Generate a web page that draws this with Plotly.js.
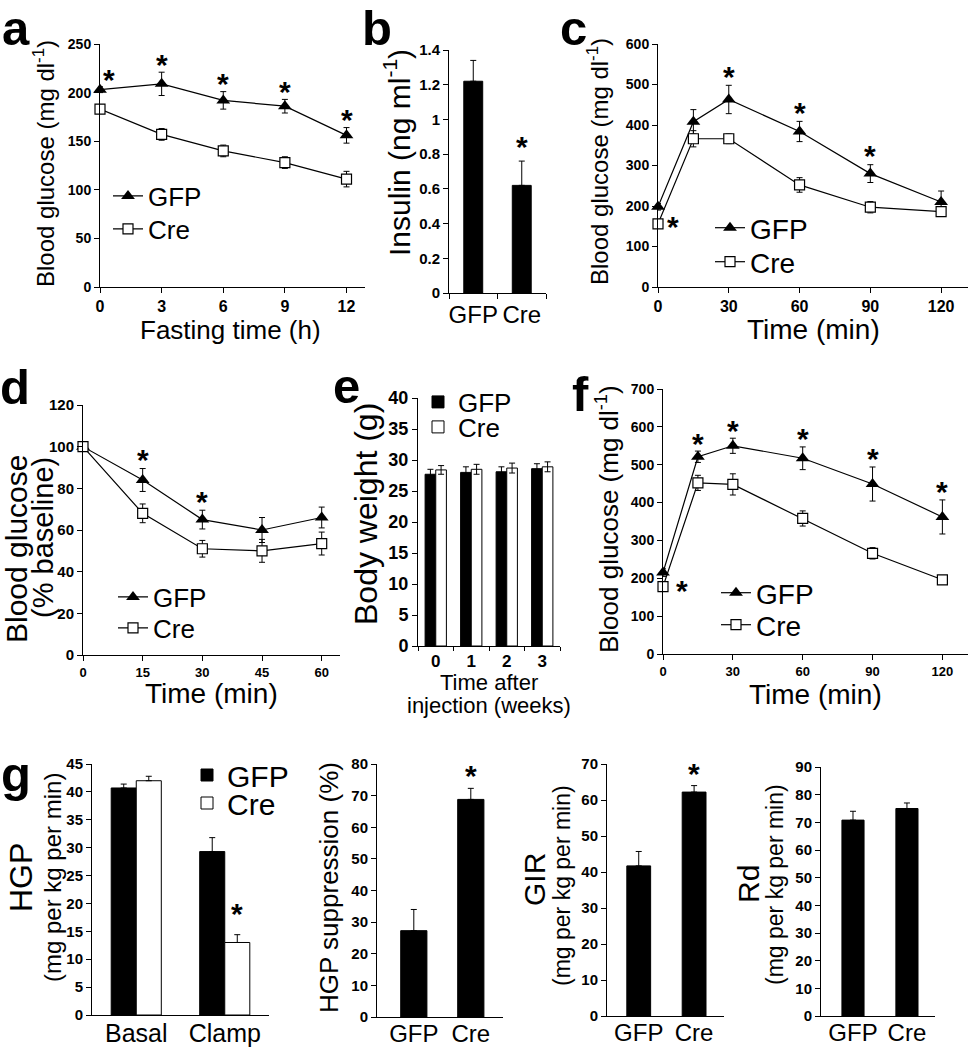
<!DOCTYPE html>
<html><head><meta charset="utf-8">
<script src="https://cdn.plot.ly/plotly-3.0.1.min.js"></script>
<style>html,body{margin:0;padding:0;background:#fff}#chart{width:974px;height:1050px}</style>
</head><body><div id="chart"></div>
<script>
// ---------------- DATA ----------------
// a: fasting
const fastTime = [0, 3, 6, 9, 12];
const aGFP = [203, 209, 192, 186, 156];
const aGFPerr = [3, 12, 9, 7, 8];
const aCre = [183, 157, 140, 128, 111];
const aCreErr = [4, 6, 6, 6, 8];
const aSigGFP = [1, 1, 1, 1, 1];
// b: insulin
const groupCats = ['GFP', 'Cre'];
const insulin = [1.22, 0.62];
const insulinErr = [0.12, 0.14];
const insulinSig = [0, 1];
// c: GTT
const gttTime = [0, 15, 30, 60, 90, 120];
const cGFP = [198, 408, 463, 384, 280, 210];
const cGFPerr = [8, 30, 35, 25, 22, 27];
const cCre = [156, 366, 366, 252, 197, 186];
const cCreErr = [10, 20, 12, 18, 14, 10];
const cSigGFP = [0, 0, 1, 1, 1, 0];
const cSigCre = [1, 0, 0, 0, 0, 0];
// d: ITT
const ittTime = [0, 15, 30, 45, 60];
const dGFP = [100, 84, 65, 60, 66];
const dGFPerr = [0, 5.5, 4.5, 6, 5];
const dCre = [100, 68, 51, 50, 53.5];
const dCreErr = [0, 4.5, 4, 5.5, 5.5];
const dSigGFP = [0, 1, 1, 0, 0];
// e: body weight
const weeks = ['0', '1', '2', '3'];
const eGFP = [27.7, 28.0, 28.1, 28.6];
const eGFPerr = [0.8, 0.9, 0.8, 0.8];
const eCre = [28.4, 28.5, 28.7, 28.9];
const eCreErr = [0.7, 0.8, 0.8, 0.8];
// f: PTT
const pttTime = [0, 15, 30, 60, 90, 120];
const fGFP = [215, 521, 550, 517, 449, 362];
const fGFPerr = [10, 15, 20, 30, 45, 45];
const fCre = [178, 452, 448, 358, 266, 196];
const fCreErr = [8, 20, 28, 20, 15, 10];
const fSigGFP = [0, 1, 1, 1, 1, 1];
const fSigCre = [1, 0, 0, 0, 0, 0];
// g: clamp
const clampCats = ['Basal', 'Clamp'];
const hgpGFP = [40.7, 29.3];
const hgpGFPerr = [0.7, 2.5];
const hgpCre = [42.0, 13.0];
const hgpCreErr = [0.8, 1.4];
const hgpCreSig = [0, 1];
const hgpSupp = [27.3, 68.8];
const hgpSuppErr = [6.7, 3.5];
const hgpSuppSig = [0, 1];
const gir = [41.7, 62.2];
const girErr = [4.0, 1.8];
const girSig = [0, 1];
const rd = [70.8, 75.0];
const rdErr = [3.2, 2.0];

// ---------------- HELPERS ----------------
const W = 974, H = 1050;
const FONT = 'Liberation Sans, Arial, Helvetica, sans-serif';
const dx = (a, b) => [a / W, b / W];
const dy = (top, bot) => [1 - bot / H, 1 - top / H];
const P = x => x / W;
const Q = y => 1 - y / H;
const bold = s => ({family: FONT, size: s, weight: 'bold', color: '#000'});

function axis(domain, range, anchor, extra) {
  return Object.assign({
    domain: domain, range: range, anchor: anchor,
    showline: true, linecolor: '#000', linewidth: 1,
    ticks: 'outside', ticklen: 5, tickwidth: 1, tickcolor: '#000',
    showgrid: false, zeroline: false, fixedrange: true,
    tickfont: bold(14)
  }, extra || {});
}

function lineTrace(x, y, err, xa, ya, name, gfp, legend) {
  return {
    type: 'scatter', mode: 'lines+markers', x: x, y: y, xaxis: xa, yaxis: ya,
    name: name, legend: legend, showlegend: true, cliponaxis: false,
    line: {color: '#000', width: 1.2},
    marker: gfp ? {symbol: 'triangle-up', size: 12, color: '#000'}
                : {symbol: 'square', size: 10, color: '#fff', line: {color: '#000', width: 1.2}},
    error_y: {type: 'data', array: err, visible: true, color: '#000', thickness: 1, width: 3}
  };
}

function barTrace(x, y, err, xa, ya, name, fill, width, offset, sym, legend) {
  const t = {
    type: 'bar', x: x, y: y, xaxis: xa, yaxis: ya, name: name,
    width: width, offset: offset, cliponaxis: false,
    marker: {color: fill, line: {color: '#000', width: 1}},
    error_y: sym ? {type: 'data', array: err, visible: true, color: '#000', thickness: 1, width: 3}
                 : {type: 'data', symmetric: false, array: err, arrayminus: err.map(() => 0), visible: true, color: '#000', thickness: 1, width: 3},
    showlegend: !!legend
  };
  if (legend) t.legend = legend;
  return t;
}

const annotations = [];
function text(x, y, t, size, opts) {
  annotations.push(Object.assign({
    xref: 'paper', yref: 'paper', x: P(x), y: Q(y), text: t, showarrow: false,
    xanchor: 'center', yanchor: 'middle',
    font: {family: FONT, size: size, color: '#000'}
  }, opts || {}));
}
function stars(xs, ys, errs, sig, xa, ya, gap, xshift) {
  xs.forEach((xv, i) => {
    if (!sig[i]) return;
    annotations.push({
      xref: xa, yref: ya, x: xv, y: ys[i] + errs[i], text: '*', showarrow: false,
      xanchor: 'center', yanchor: 'middle', xshift: xshift || 0, yshift: gap - 7,
      font: bold(30)
    });
  });
}

// ---------------- TRACES ----------------
const data = [
  // a
  lineTrace(fastTime, aGFP, aGFPerr, 'x', 'y', 'GFP', true, 'legend'),
  lineTrace(fastTime, aCre, aCreErr, 'x', 'y', 'Cre', false, 'legend2'),
  // b
  barTrace(groupCats, insulin, insulinErr, 'x2', 'y2', 'Insulin', '#000', 0.39, -0.195, false, null),
  // c
  lineTrace(gttTime, cGFP, cGFPerr, 'x3', 'y3', 'GFP', true, 'legend3'),
  lineTrace(gttTime, cCre, cCreErr, 'x3', 'y3', 'Cre', false, 'legend4'),
  // d
  lineTrace(ittTime, dGFP, dGFPerr, 'x4', 'y4', 'GFP', true, 'legend5'),
  lineTrace(ittTime, dCre, dCreErr, 'x4', 'y4', 'Cre', false, 'legend6'),
  // e
  barTrace(weeks, eGFP, eGFPerr, 'x5', 'y5', 'GFP', '#000', 0.3, -0.3, true, 'legend7'),
  barTrace(weeks, eCre, eCreErr, 'x5', 'y5', 'Cre', '#fff', 0.3, 0, true, 'legend8'),
  // f
  lineTrace(pttTime, fGFP, fGFPerr, 'x6', 'y6', 'GFP', true, 'legend9'),
  lineTrace(pttTime, fCre, fCreErr, 'x6', 'y6', 'Cre', false, 'legend10'),
  // g1
  barTrace(clampCats, hgpGFP, hgpGFPerr, 'x7', 'y7', 'GFP', '#000', 0.283, -0.283, false, 'legend11'),
  barTrace(clampCats, hgpCre, hgpCreErr, 'x7', 'y7', 'Cre', '#fff', 0.283, 0, false, 'legend12'),
  // g2
  barTrace(groupCats, hgpSupp, hgpSuppErr, 'x8', 'y8', 'HGP suppression', '#000', 0.46, -0.23, false, null),
  // g3
  barTrace(groupCats, gir, girErr, 'x9', 'y9', 'GIR', '#000', 0.43, -0.215, false, null),
  // g4
  barTrace(groupCats, rd, rdErr, 'x10', 'y10', 'Rd', '#000', 0.41, -0.205, false, null)
];

// ---------------- ASTERISKS ----------------
stars(fastTime, aGFP, aGFPerr, aSigGFP.map((s, i) => i === 0 ? 0 : s), 'x', 'y', 15);
stars([fastTime[0]], [aGFP[0]], [aGFPerr[0]], [aSigGFP[0]], 'x', 'y', 14, 9);
stars(groupCats, insulin, insulinErr, insulinSig, 'x2', 'y2', 22);
stars(gttTime, cGFP, cGFPerr, cSigGFP, 'x3', 'y3', 16);
stars(gttTime, cCre, cCre.map(() => 0), cSigCre, 'x3', 'y3', 4, 15);
stars(ittTime, dGFP, dGFPerr, dSigGFP, 'x4', 'y4', 16);
stars(pttTime, fGFP, fGFPerr, fSigGFP, 'x6', 'y6', 15);
stars(pttTime, fCre, fCre.map(() => 0), fSigCre, 'x6', 'y6', 3, 19);
stars(clampCats.map((c, i) => i), hgpCre, hgpCreErr, hgpCreSig, 'x7', 'y7', 28, 12);
stars(groupCats, hgpSupp, hgpSuppErr, hgpSuppSig, 'x8', 'y8', 20);
stars(groupCats, gir, girErr, girSig, 'x9', 'y9', 19);

// ---------------- TEXT (panel letters, axis titles) ----------------
[['a', 0, 27.5], ['b', 360, 27.5], ['c', 558, 27.5], ['d', -2, 387], ['e', 331, 386], ['f', 570, 394], ['g', -1, 774]]
  .forEach(([t, x, y]) => text(x, y, t, 49, {xanchor: 'left', font: bold(49)}));

const rot = {textangle: -90};
text(44, 164, 'Blood glucose (mg dl<sup>-1</sup>)', 24, rot);
text(230, 330, 'Fasting time (h)', 26);
text(397, 153, 'Insulin (ng ml<sup>-1</sup>)', 30, rot);
text(598, 162, 'Blood glucose (mg dl<sup>-1</sup>)', 24, rot);
text(813, 329, 'Time (min)', 28);
text(16, 549, 'Blood glucose', 30, rot);
text(43, 538, '(% baseline)', 29, rot);
text(211, 693, 'Time (min)', 28);
text(366, 514, 'Body weight (g)', 32, rot);
text(489, 682, 'Time after', 22);
text(489, 705, 'injection (weeks)', 22);
text(608, 519, 'Blood glucose (mg dl<sup>-1</sup>)', 26, rot);
text(815, 694, 'Time (min)', 28);
text(21, 878, 'HGP', 32, rot);
text(52, 878, '(mg per kg per min)', 24, rot);
text(329, 888, 'HGP suppression (%)', 26, rot);
text(534, 880, 'GIR', 30, rot);
text(562, 886, '(mg per kg per min)', 23, rot);
text(748, 884, 'Rd', 30, rot);
text(775, 885, '(mg per kg per min)', 23, rot);

// ---------------- LAYOUT ----------------
function leg(x, y, size) {
  return {x: P(x), y: Q(y), xanchor: 'left', yanchor: 'middle', bgcolor: 'rgba(0,0,0,0)',
          borderwidth: 0, itemwidth: 30, font: {family: FONT, size: size, color: '#000'}};
}
const catFont = {family: FONT, size: 24, color: '#000'};

const layout = {
  width: W, height: H, margin: {l: 0, r: 0, t: 0, b: 0, pad: 0},
  paper_bgcolor: '#fff', plot_bgcolor: 'rgba(0,0,0,0)',
  font: {family: FONT, color: '#000'},
  barmode: 'group',
  showlegend: true,
  // a
  xaxis: axis(dx(100, 365), [0, 12.9], 'y', {dtick: 3, tick0: 0, tickfont: bold(16)}),
  yaxis: axis(dy(44, 287), [0, 250], 'x', {dtick: 50}),
  // b
  xaxis2: axis(dx(449, 546), [-0.5, 1.5], 'y2', {type: 'category', tickson: 'boundaries', tickangle: 0, tickfont: catFont}),
  yaxis2: axis(dy(50, 293), [0, 1.4], 'x2', {dtick: 0.2, tickfont: bold(15)}),
  // c
  xaxis3: axis(dx(658, 968), [0, 131.4], 'y3', {dtick: 30, tick0: 0, tickfont: bold(16)}),
  yaxis3: axis(dy(44, 287), [0, 600], 'x3', {dtick: 100}),
  // d
  xaxis4: axis(dx(83, 340), [0, 64.6], 'y4', {dtick: 15, tick0: 0, tickfont: bold(13)}),
  yaxis4: axis(dy(405, 655), [0, 120], 'x4', {dtick: 20, tickfont: bold(15)}),
  // e
  xaxis5: axis(dx(418, 560), [-0.5, 3.5], 'y5', {type: 'category', tickson: 'boundaries', tickangle: 0, ticklen: 4, tickfont: bold(17)}),
  yaxis5: axis(dy(398, 646), [0, 40], 'x5', {dtick: 5, tickfont: bold(18)}),
  // f
  xaxis6: axis(dx(663, 968), [0, 131], 'y6', {dtick: 30, tick0: 0, tickfont: bold(13)}),
  yaxis6: axis(dy(389, 654), [0, 700], 'x6', {dtick: 100}),
  // g1
  xaxis7: axis(dx(92, 269), [-0.5, 1.5], 'y7', {type: 'category', ticks: '', tickangle: 0, ticklabelstandoff: -4, tickfont: {family: FONT, size: 25, color: '#000'}}),
  yaxis7: axis(dy(764, 1015), [0, 45], 'x7', {dtick: 5, tickfont: bold(15)}),
  // g2
  xaxis8: axis(dx(377, 503), [-0.646, 1.565], 'y8', {type: 'category', ticks: '', tickangle: 0, ticklabelstandoff: -5, tickfont: catFont}),
  yaxis8: axis(dy(764, 1017), [0, 80], 'x8', {dtick: 10, tickfont: bold(15)}),
  // g3
  xaxis9: axis(dx(607, 724), [-0.573, 1.54], 'y9', {type: 'category', ticks: '', tickangle: 0, ticklabelstandoff: -5, tickfont: catFont}),
  yaxis9: axis(dy(764, 1016), [0, 70], 'x9', {dtick: 10, tickfont: bold(15)}),
  // g4
  xaxis10: axis(dx(821, 935), [-0.593, 1.52], 'y10', {type: 'category', ticks: '', tickangle: 0, ticklabelstandoff: -5, tickfont: catFont}),
  yaxis10: axis(dy(767, 1016), [0, 90], 'x10', {dtick: 10, tickfont: bold(15)}),
  // legends
  legend: leg(108, 196, 26),
  legend2: leg(108, 229, 26),
  legend3: leg(710, 228, 28),
  legend4: leg(710, 262, 28),
  legend5: leg(113, 597, 26),
  legend6: leg(113, 628, 26),
  legend7: leg(418, 402, 26),
  legend8: leg(418, 427, 26),
  legend9: leg(716, 593, 28),
  legend10: leg(716, 625, 28),
  legend11: leg(187, 775, 30),
  legend12: leg(187, 803, 30),
  annotations: annotations
};

Plotly.newPlot('chart', data, layout, {staticPlot: true, displayModeBar: false});
</script>
</body></html>
